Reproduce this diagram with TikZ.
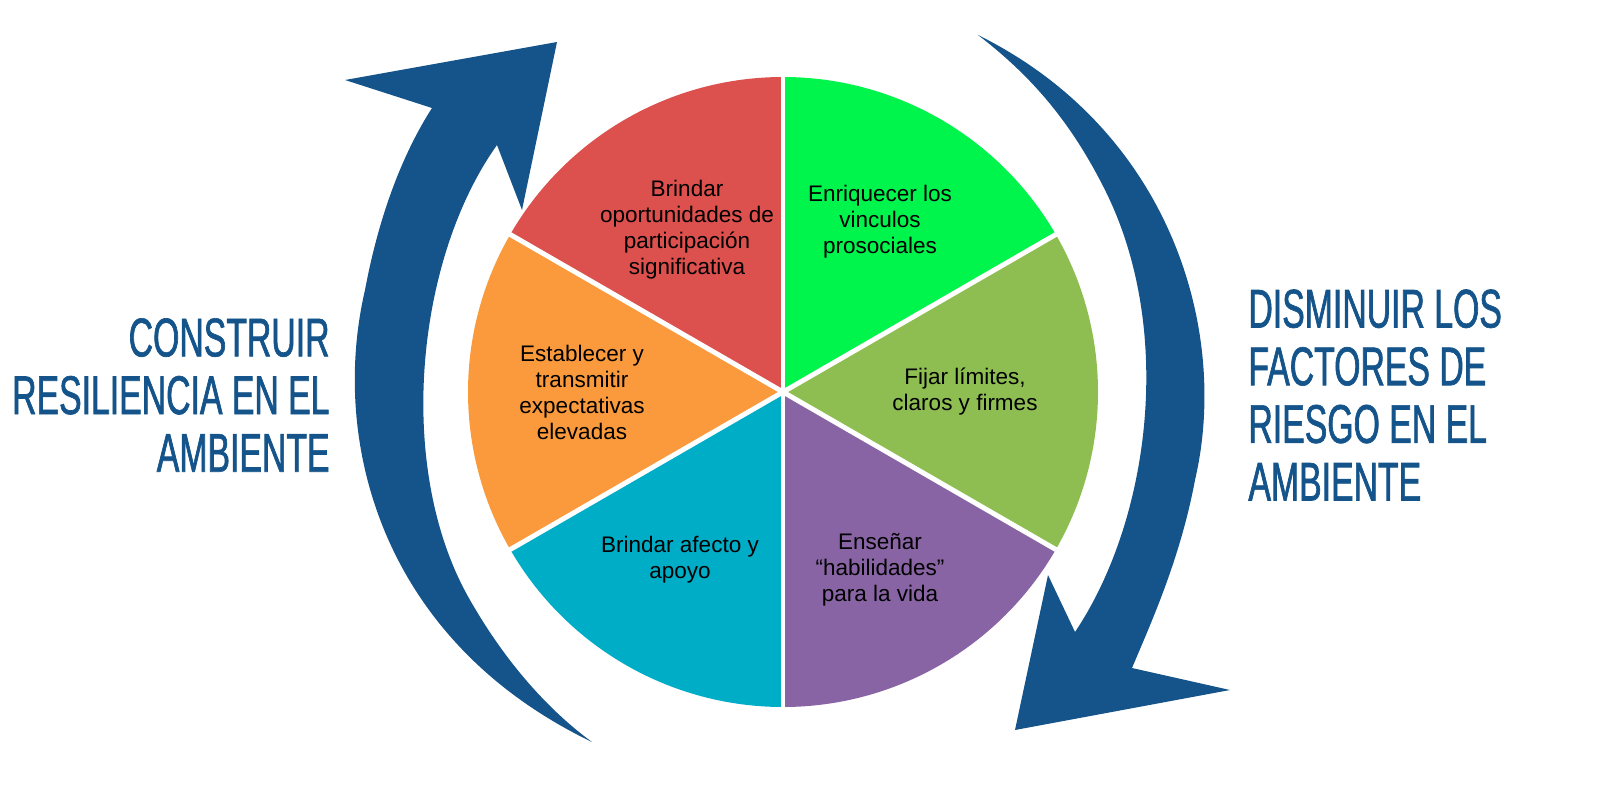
\documentclass[tikz,border=0pt]{standalone}
\usepackage{fontspec}
\setmainfont{Liberation Sans}
\newfontfamily\titlefont[FakeStretch=0.62,FakeBold=1.2]{Liberation Sans}
\usetikzlibrary{positioning}
\definecolor{pieRed}{HTML}{DC504D}
\definecolor{pieGreen}{HTML}{00F54C}
\definecolor{pieOlive}{HTML}{8EBD52}
\definecolor{piePurple}{HTML}{8964A4}
\definecolor{pieTeal}{HTML}{00ADC7}
\definecolor{pieOrange}{HTML}{FA9A3C}
\definecolor{arrowBlue}{HTML}{14548A}
\tikzset{
    piefill/.style = {draw=none},
    pietext/.style = {align=center, font=\fontsize{6.4}{7.4}\selectfont, text=black},
    titletext/.style = {text=arrowBlue, font=\titlefont\fontsize{15.5}{16.4}\selectfont},
    bigarrow/.style = {fill=arrowBlue, draw=none}
}
\begin{document}
\begin{tikzpicture}[x=0.01cm, y=-0.01cm]
  \useasboundingbox (0,0) rectangle (1600,800);
  \coordinate (c) at (783,392);
  % wedges
  \fill[pieRed]    (c) -- ++(-90:315)  arc (-90:-150:315)  -- cycle;
  \fill[pieGreen]  (c) -- ++(-30:315)  arc (-30:-90:315)   -- cycle;
  \fill[pieOlive]  (c) -- ++(30:315)   arc (30:-30:315)    -- cycle;
  \fill[piePurple] (c) -- ++(90:315)   arc (90:30:315)     -- cycle;
  \fill[pieTeal]   (c) -- ++(150:315)  arc (150:90:315)    -- cycle;
  \fill[pieOrange] (c) -- ++(210:315)  arc (210:150:315)   -- cycle;
  \foreach \a in {-90,-30,30,90,150,210}
    \draw[white, line width=1.4pt] (c) -- ++(\a:317);
  % labels
  \node[pietext] (brindar) at (687,230) {Brindar\\oportunidades de\\participación\\significativa};
  \node[pietext] (enriq) at (880,222) {Enriquecer los\\vinculos\\prosociales};
  \node[pietext] (fijar) at (965,392) {Fijar límites,\\claros y firmes};
  \node[pietext] (ensenar) at (880,570) {Enseñar\\“habilidades”\\para la vida};
  \node[pietext] (afecto) at (680,560) {Brindar afecto y\\apoyo};
  \node[pietext] (establ) at (582,392) {Establecer y\\transmitir\\expectativas\\elevadas};
  % arrows
  \fill[bigarrow] (592,742) .. controls (380,640) and (330,440) .. (365,290)
    .. controls (380,210) and (405,150) .. (432,108)
    -- (345,80) -- (557,42) -- (522,210) -- (497,145)
    .. controls (415,260) and (395,470) .. (470,600)
    .. controls (510,670) and (555,715) .. cycle;
  \fill[bigarrow] (978,35) .. controls (1170,130) and (1230,330) .. (1195,480)
    .. controls (1180,560) and (1150,625) .. (1132,668)
    -- (1230,690) -- (1015,730) -- (1048,575) -- (1075,632)
    .. controls (1150,520) and (1175,330) .. (1105,190)
    .. controls (1070,120) and (1030,75) .. cycle;
  % titles
  \node[titletext, align=right, anchor=east] (izq) at (342,395) {CONSTRUIR\\RESILIENCIA EN EL\\AMBIENTE};
  \node[titletext, align=left, anchor=west] (der) at (1236,395) {DISMINUIR LOS\\FACTORES DE\\RIESGO EN EL\\AMBIENTE};
\end{tikzpicture}
\end{document}
